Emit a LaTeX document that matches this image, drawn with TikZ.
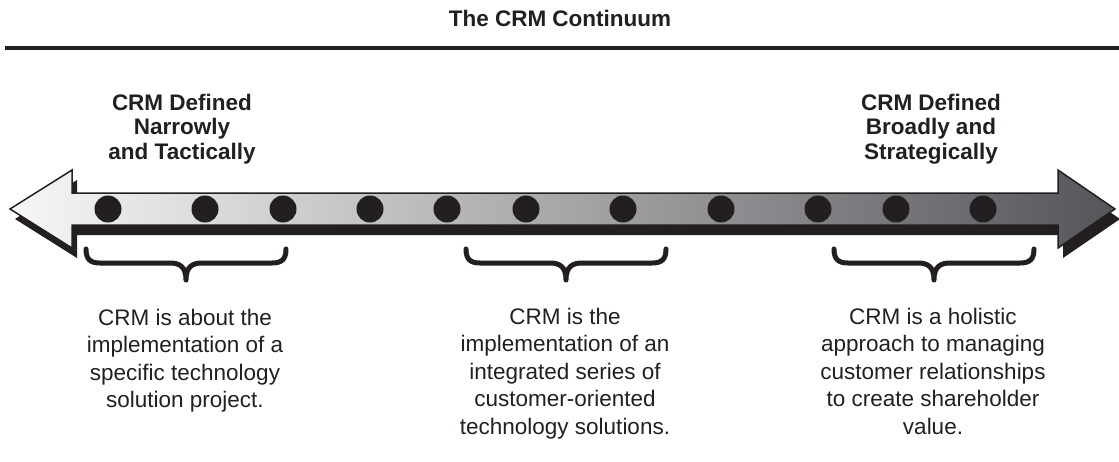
\documentclass[tikz,border=0pt]{standalone}
\usepackage{fontspec}
\setmainfont{Liberation Sans}
\definecolor{ink}{HTML}{231F20}
\definecolor{darkend}{HTML}{55565A}
\definecolor{midgray}{HTML}{B4B5B7}
\begin{document}
\begin{tikzpicture}[x=1pt,y=-1pt,
  titletext/.style={font=\bfseries\fontsize{22.5}{24.5}\selectfont, inner sep=0, anchor=base, text=ink},
  heading/.style={font=\bfseries\fontsize{22.5}{24.5}\selectfont, align=center, inner sep=0, anchor=north, text=ink},
  body/.style={font=\fontsize{22.5}{27.5}\selectfont, align=center, inner sep=0, anchor=north, text=ink},
  dot/.style={circle, fill=ink, minimum size=27pt, inner sep=0},
  bracestroke/.style={draw=ink, line width=5pt, line cap=round, line join=round},
  crmbrace/.pic={
    \draw[bracestroke] (-100,0) .. controls (-100,10) and (-96,14) .. (-86,14) -- (-16,14)
      .. controls (-6,14) and (0,18) .. (0,31)
      .. controls (0,18) and (6,14) .. (16,14) -- (86,14)
      .. controls (96,14) and (100,10) .. (100,0);
  }]
\useasboundingbox (0,0) rectangle (1119,461);

% title and rule
\node[titletext] (title) at (560,26) {The CRM Continuum};
\coordinate (ruleL) at (5,47.5);
\coordinate (ruleR) at (1119,47.5);
\draw[line width=4pt, ink] (ruleL) -- (ruleR);

% arrow shadow
\fill[ink, shift={(5,10)}] (10,209) -- (72,170) -- (72,193) -- (1058,193) -- (1058,170) -- (1115,209)
  -- (1058,248) -- (1058,225) -- (72,225) -- (72,248) -- cycle;
% arrow body
\shade[left color=white!97!black, middle color=midgray, right color=darkend, draw=ink, line width=1.5pt, line join=miter]
  (10,209) -- (72,170) -- (72,193) -- (1058,193) -- (1058,170) -- (1115,209)
  -- (1058,248) -- (1058,225) -- (72,225) -- (72,248) -- cycle;

% dots
\foreach \x [count=\i] in {108,205,283,370,447,526,623,721,818,896,983}
  \node[dot] (d\i) at (\x,209) {};

% headings
\node[heading] (left) at (182,92.85) {\strut CRM Defined\\Narrowly\\and Tactically};
\node[heading] (right) at (931,92.85) {\strut CRM Defined\\Broadly and\\Strategically};

% braces
\pic at (186,249) {crmbrace};
\pic at (566,249) {crmbrace};
\pic at (934,249) {crmbrace};

% descriptions
\node[body] (t1) at (185,305.75) {\strut CRM is about the\\implementation of a\\specific technology\\solution project.};
\node[body] (t2) at (565,304.75) {\strut CRM is the\\implementation of an\\integrated series of\\customer-oriented\\technology solutions.};
\node[body] (t3) at (933,304.75) {\strut CRM is a holistic\\approach to managing\\customer relationships\\to create shareholder\\value.};
\end{tikzpicture}
\end{document}
